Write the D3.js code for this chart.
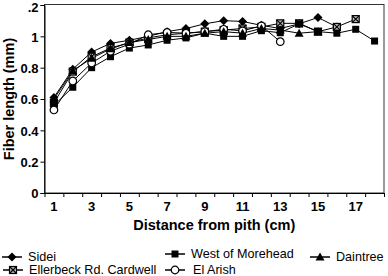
<!DOCTYPE html>
<html>
<head>
<meta charset="utf-8">
<script src="https://cdn.jsdelivr.net/npm/d3@7"></script>
<style>
  body { margin: 0; background: #fff; }
  text { font-family: "Liberation Sans", Arial, sans-serif; }
</style>
</head>
<body>
<div id="chart"></div>
<script>
// data (fiber length in mm per cm from pith)
const distances = d3.range(1, 19)
const sidei = [0.61, 0.79, 0.90, 0.955, 0.975, 1.0, 1.03, 1.05, 1.08, 1.10, 1.095, 1.07, 1.05, 1.08, 1.12, 1.06]
const ellerbeck = [0.575, 0.775, 0.87, 0.925, 0.96, 0.99, 1.01, 1.02, 1.03, 1.04, 1.05, 1.06, 1.083, 1.083, 1.03, 1.06, 1.11]
const morehead = [0.56, 0.675, 0.80, 0.87, 0.925, 0.945, 0.975, 0.99, 1.02, 1.0, 1.0, 1.036, 1.023, 1.08, 1.03, 1.02, 1.045, 0.97]
const daintree = [0.60, 0.78, 0.86, 0.92, 0.96, 0.98, 1.0, 1.0, 1.02, 1.03, 1.02, 1.05, 1.04, 1.02, 1.03]
const elArish = [0.53, 0.715, 0.83, 0.905, 0.95, 1.01, 1.025, 1.02, 1.03, 1.045, 1.035, 1.067, 0.966]
const yTicks = [0, 0.2, 0.4, 0.6, 0.8, 1, 1.2]
const yTickLabels = ['0', '0.2', '0.4', '0.6', '0.8', '1', '.2']

const series = [
    {name: 'Sidei', values: sidei, shape: 'diamond'},
    {name: 'Ellerbeck Rd. Cardwell', values: ellerbeck, shape: 'xsquare'},
    {name: 'West of Morehead', values: morehead, shape: 'square'},
    {name: 'El Arish', values: elArish, shape: 'circle'},
    {name: 'Daintree', values: daintree, shape: 'triangle'}
]

const dim = {width: 388, height: 276, left: 44.5, right: 384, top: 5, bottom: 193}

const svg = d3.select('#chart')
    .append('svg')
    .attr('width', dim.width)
    .attr('height', dim.height)

const xScale = d3.scaleBand()
    .domain(distances)
    .range([dim.left, dim.right])

const xEdge = d3.scaleLinear()
    .domain([0, distances.length])
    .range([dim.left, dim.right])

const yScale = d3.scaleLinear()
    .domain([0, 1.2])
    .range([dim.bottom, dim.top])

// plot frame
svg.append('rect')
    .attr('x', dim.left)
    .attr('y', dim.top - 0.5)
    .attr('width', dim.right - dim.left)
    .attr('height', dim.bottom - dim.top + 0.5)
    .attr('fill', 'none')
    .attr('stroke', '#333')

// y axis
const yAxis = svg.append('g')
    .attr('transform', `translate(${dim.left},0)`)
    .call(d3.axisLeft(yScale)
        .tickValues(yTicks)
        .tickSize(4)
        .tickFormat((d, i) => yTickLabels[i]))
yAxis.select('.domain').attr('stroke', '#000')
yAxis.selectAll('text')
    .attr('font-size', 13)
    .attr('font-weight', 'bold')
    .attr('x', -6)
    .attr('dy', d => d === 1.2 ? '0.5em' : '0.36em')

// x axis: labels at band centres, ticks at band edges
const xAxis = svg.append('g')
    .attr('transform', `translate(0,${dim.bottom})`)
    .call(d3.axisBottom(xScale)
        .tickSize(0)
        .tickFormat(d => d % 2 ? d : ''))
xAxis.select('.domain').attr('stroke', '#000')
xAxis.selectAll('text')
    .attr('font-size', 13)
    .attr('font-weight', 'bold')
    .attr('y', 9)

svg.append('g')
    .attr('transform', `translate(0,${dim.bottom})`)
    .call(d3.axisBottom(xEdge)
        .tickValues(d3.range(0, distances.length + 1))
        .tickSize(4)
        .tickFormat(''))
    .call(g => g.select('.domain').remove())

// axis titles
svg.append('text')
    .attr('x', (dim.left + dim.right) / 2)
    .attr('y', 230)
    .attr('text-anchor', 'middle')
    .attr('font-size', 14.5)
    .attr('font-weight', 'bold')
    .text('Distance from pith (cm)')

svg.append('text')
    .attr('transform', `translate(14,${(dim.top + dim.bottom) / 2}) rotate(-90)`)
    .attr('text-anchor', 'middle')
    .attr('font-size', 14.5)
    .attr('font-weight', 'bold')
    .text('Fiber length (mm)')

// marker drawing
function marker(g, shape) {
    if (shape === 'diamond') {
        g.append('path').attr('d', 'M0,-4.5L4.5,0L0,4.5L-4.5,0Z').attr('fill', '#000')
    } else if (shape === 'square') {
        g.append('rect').attr('x', -3.5).attr('y', -3.5).attr('width', 7).attr('height', 7).attr('fill', '#000')
    } else if (shape === 'triangle') {
        g.append('path').attr('d', 'M0,-4.5L4.5,3.5L-4.5,3.5Z').attr('fill', '#000')
    } else if (shape === 'circle') {
        g.append('circle').attr('r', 3.8).attr('fill', '#fff').attr('stroke', '#000').attr('stroke-width', 1.2)
    } else if (shape === 'xsquare') {
        g.append('rect').attr('x', -3.5).attr('y', -3.5).attr('width', 7).attr('height', 7)
            .attr('fill', '#bbb').attr('stroke', '#000').attr('stroke-width', 1.2)
        g.append('path').attr('d', 'M-3.5,-3.5L3.5,3.5M3.5,-3.5L-3.5,3.5')
            .attr('stroke', '#000').attr('stroke-width', 1.2)
    }
}

const line = d3.line()
    .x((d, i) => xScale(distances[i]) + xScale.bandwidth() / 2)
    .y(d => yScale(d))

const cht = svg.append('g')

series.forEach(s => {
    cht.append('path')
        .datum(s.values)
        .attr('d', line)
        .attr('fill', 'none')
        .attr('stroke', '#000')
        .attr('stroke-width', 1)
})

series.forEach(s => {
    s.values.forEach((v, i) => {
        const g = cht.append('g')
            .attr('transform', `translate(${xScale(distances[i]) + xScale.bandwidth() / 2},${yScale(v)})`)
        marker(g, s.shape)
    })
})

// legend
const legendPos = [
    {name: 'Sidei', x: 2, y: 257},
    {name: 'Ellerbeck Rd. Cardwell', x: 3, y: 270},
    {name: 'West of Morehead', x: 165, y: 254},
    {name: 'El Arish', x: 165, y: 270},
    {name: 'Daintree', x: 310, y: 257}
]

legendPos.forEach(p => {
    const s = series.find(d => d.name === p.name)
    const g = svg.append('g').attr('transform', `translate(${p.x},${p.y})`)
    g.append('line')
        .attr('x1', 0).attr('x2', 20)
        .attr('stroke', '#000')
        .attr('stroke-width', 1.5)
    marker(g.append('g').attr('transform', 'translate(10,0)'), s.shape)
    g.append('text')
        .attr('x', s.name === 'El Arish' ? 28 : 26)
        .attr('dy', '0.35em')
        .attr('font-size', 12.6)
        .text(s.name)
})
</script>
</body>
</html>
